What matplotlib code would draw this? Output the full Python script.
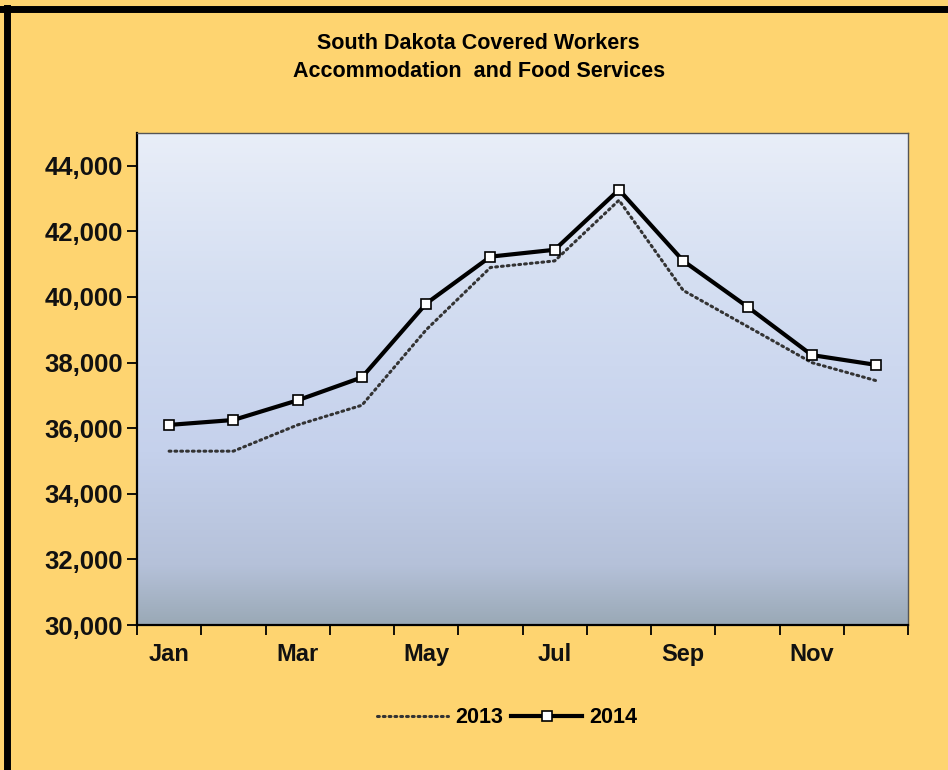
import numpy as np
import matplotlib.pyplot as plt
from matplotlib.colors import LinearSegmentedColormap
from matplotlib.ticker import FuncFormatter, FixedLocator

months = ['Jan', 'Feb', 'Mar', 'Apr', 'May', 'Jun', 'Jul', 'Aug', 'Sep', 'Oct', 'Nov', 'Dec']
workers_2013 = [35300, 35300, 36100, 36700, 39000, 40900, 41100, 42950, 40200, 39100, 38000, 37450]
workers_2014 = [36100, 36250, 36850, 37550, 39800, 41230, 41440, 43270, 41100, 39700, 38230, 37930]
title_lines = ['South Dakota Covered Workers', 'Accommodation  and Food Services']

plt.rcParams['font.family'] = ['Liberation Sans', 'DejaVu Sans']

fig = plt.figure(figsize=(9.48, 7.7), dpi=100)
fig.patch.set_facecolor('#FED470')

# black frame on top and left edge
fig.add_artist(plt.Line2D([0, 1], [0.9885, 0.9885], color='black', lw=5, transform=fig.transFigure))
fig.add_artist(plt.Line2D([0.0075, 0.0075], [0, 0.99], color='black', lw=5, transform=fig.transFigure))

ax = fig.add_axes([0.1445, 0.1883, 0.8135, 0.639])

x = np.arange(len(months))
ax.set_xlim(-0.5, len(months) - 0.5)
ax.set_ylim(30000, 45000)

# gradient background of the plot area
cmap = LinearSegmentedColormap.from_list('bg', [
    (0.0, '#9AA9B6'), (0.12, '#B5C1D9'), (0.35, '#C5D1EC'),
    (0.7, '#D5DFF2'), (1.0, '#E9EEF8')])
grad = np.linspace(0, 1, 256).reshape(-1, 1)
ax.imshow(grad, cmap=cmap, aspect='auto', origin='lower',
          extent=[-0.5, len(months) - 0.5, 30000, 45000], zorder=0)

ax.plot(x, workers_2013, color='#333333', lw=2.2, linestyle=(0, (0.6, 1.3)),
        dash_capstyle='round', label='2013', zorder=3)
ax.plot(x, workers_2014, color='black', lw=3, marker='s', markersize=7,
        markerfacecolor='white', markeredgecolor='black', markeredgewidth=1.2,
        label='2014', zorder=4)

ax.yaxis.set_major_locator(FixedLocator(np.arange(30000, 44001, 2000)))
ax.yaxis.set_major_formatter(FuncFormatter(lambda v, p: f'{int(v):,}'))

ax.set_xticks(x[::2])
ax.set_xticklabels(months[::2])
ax.set_xticks(np.arange(-0.5, len(months), 1), minor=True)
ax.tick_params(axis='x', which='major', length=0, pad=13)
ax.tick_params(axis='x', which='minor', length=7, width=1.3, color='black')
ax.tick_params(axis='y', length=7, width=1.3, color='black', pad=3)

for lbl in ax.get_xticklabels():
    lbl.set_fontsize(17)
    lbl.set_fontweight('bold')
    lbl.set_color('#111111')
for lbl in ax.get_yticklabels():
    lbl.set_fontsize(18.5)
    lbl.set_fontweight('bold')
    lbl.set_color('#111111')

for side in ['top', 'right']:
    ax.spines[side].set_color('#555555')
    ax.spines[side].set_linewidth(1)
for side in ['left', 'bottom']:
    ax.spines[side].set_color('black')
    ax.spines[side].set_linewidth(1.6)

fig.text(0.505, 0.943, title_lines[0], ha='center', va='center', fontsize=15.5, fontweight='bold')
fig.text(0.505, 0.907, title_lines[1], ha='center', va='center', fontsize=15.5, fontweight='bold')

leg = fig.legend(loc='center', bbox_to_anchor=(0.535, 0.068), ncol=2, frameon=False,
                 fontsize=15.5, handlelength=3.3, columnspacing=0.4, handletextpad=0.3)
for t in leg.get_texts():
    t.set_fontweight('bold')

fig.savefig('out.png', dpi=100, facecolor=fig.get_facecolor())
